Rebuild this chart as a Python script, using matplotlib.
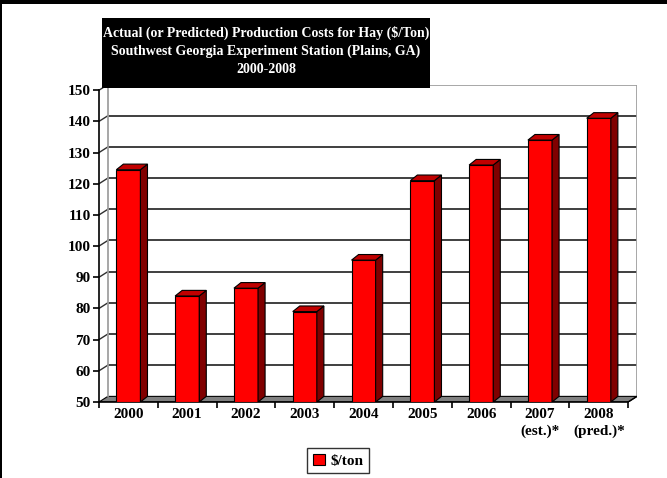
import numpy as np
import matplotlib.pyplot as plt
from matplotlib.patches import Polygon, Rectangle

# -----------------------------------
# Data
# -----------------------------------

years = ["2000", "2001", "2002", "2003", "2004", "2005", "2006",
         "2007\n(est.)*", "2008\n(pred.)*"]
cost_per_ton = [124.5, 84.0, 86.5, 79.0, 95.5, 121.0, 126.0, 134.0, 141.0]
y_ticks = [50, 60, 70, 80, 90, 100, 110, 120, 130, 140, 150]

title = ("Actual (or Predicted) Production Costs for Hay ($/Ton)\n"
         "Southwest Georgia Experiment Station (Plains, GA)\n"
         "2000-2008")

# -----------------------------------
# Style
# -----------------------------------

plt.rcParams['font.family'] = ['Liberation Serif', 'DejaVu Serif']
plt.rcParams['font.weight'] = 'bold'

FRONT = "#ff0000"
SIDE = "#800000"
TOP = "#c00000"

DX, DY = 0.15, 1.8     # wall depth in data units
BX, BY = 0.12, 1.8     # bar depth in data units
W = 0.41               # bar width
FS = 11

y_min, y_max = y_ticks[0], y_ticks[-1]
x = np.arange(len(years))
x0, x1 = -0.5, len(years) - 0.5

fig = plt.figure(figsize=(6.67, 4.78), dpi=100)
ax = fig.add_axes([0.1484, 0.159, 0.8066, 0.664])
ax.set_xlim(x0, x1 + DX)
ax.set_ylim(y_min, y_max + DY)

for s in ["top", "right"]:
    ax.spines[s].set_visible(False)
ax.spines["left"].set_bounds(y_min, y_max)
ax.spines["bottom"].set_bounds(x0, x1)
ax.spines["left"].set_linewidth(1.2)
ax.spines["bottom"].set_linewidth(1.2)

# floor
ax.add_patch(Polygon([(x0, y_min), (x1, y_min), (x1 + DX, y_min + DY),
                      (x0 + DX, y_min + DY)], closed=True,
                     facecolor="#808080", edgecolor="black", lw=0.8, zorder=1))

# back wall gridlines + side wall lines
for v in y_ticks[1:-1]:
    ax.plot([x0 + DX, x1 + DX], [v + DY, v + DY], color="#303030", lw=1.3, zorder=1)
    ax.plot([x0, x0 + DX], [v, v + DY], color="#303030", lw=1.0, zorder=1)

# back wall outline
ax.plot([x0 + DX, x0 + DX, x1 + DX, x1 + DX],
        [y_min + DY, y_max + DY, y_max + DY, y_min + DY],
        color="#a0a0a0", lw=1.3, zorder=1)
ax.plot([x0, x0 + DX], [y_max, y_max + DY], color="#303030", lw=1.0, zorder=1)
ax.plot([x1, x1 + DX], [y_min, y_min + DY], color="black", lw=1.0, zorder=2)

# bars
bars = ax.bar(x, np.array(cost_per_ton) - y_min, bottom=y_min, width=W,
              color=FRONT, edgecolor="black", lw=0.8, zorder=3, label="$/ton")
for xi, v in zip(x, cost_per_ton):
    l, r = xi - W / 2, xi + W / 2
    ax.add_patch(Polygon([(r, y_min), (r + BX, y_min + BY), (r + BX, v + BY), (r, v)],
                         closed=True, facecolor=SIDE, edgecolor="black", lw=0.8, zorder=3))
    ax.add_patch(Polygon([(l, v), (r, v), (r + BX, v + BY), (l + BX, v + BY)],
                         closed=True, facecolor=TOP, edgecolor="black", lw=0.8, zorder=3))

# axes ticks
ax.set_yticks(y_ticks)
ax.set_yticklabels([str(t) for t in y_ticks], fontsize=FS, fontweight="bold")
ax.set_xticks(np.arange(x0, x1 + 0.01, 1.0))
ax.set_xticklabels([])
ax.set_xticks(x, minor=True)
ax.set_xticklabels(years, minor=True, fontsize=FS, fontweight="bold",
                   linespacing=1.4, va="top")
ax.tick_params(axis="x", which="minor", length=0, pad=4)
ax.tick_params(axis="x", which="major", length=4, width=1.2, direction="out")
ax.tick_params(axis="y", length=4, width=1.2, direction="out", pad=2)

# title box
fig.patches.append(Rectangle((102 / 667, 1 - 88 / 478), 328 / 667, 70 / 478,
                             transform=fig.transFigure, facecolor="black",
                             edgecolor="none", zorder=5))
fig.text(266 / 667, 1 - 51 / 478, title, ha="center", va="center", color="white",
         fontsize=10, fontweight="bold", linespacing=1.45, zorder=6)

# legend
leg = fig.legend(handles=[bars], loc="center", bbox_to_anchor=(0.507, 0.036),
                 frameon=True, fancybox=False, edgecolor="black",
                 handlelength=0.8, handleheight=0.8, handletextpad=0.4,
                 borderpad=0.35, prop={"weight": "bold", "size": FS})
leg.get_frame().set_linewidth(1.0)

# black border at top and left
fig.patches.append(Rectangle((0, 1 - 4 / 478), 1, 4 / 478, transform=fig.transFigure,
                             facecolor="black", edgecolor="none", zorder=10))
fig.patches.append(Rectangle((0, 0), 2 / 667, 1, transform=fig.transFigure,
                             facecolor="black", edgecolor="none", zorder=10))

plt.savefig("out.png", dpi=100)
